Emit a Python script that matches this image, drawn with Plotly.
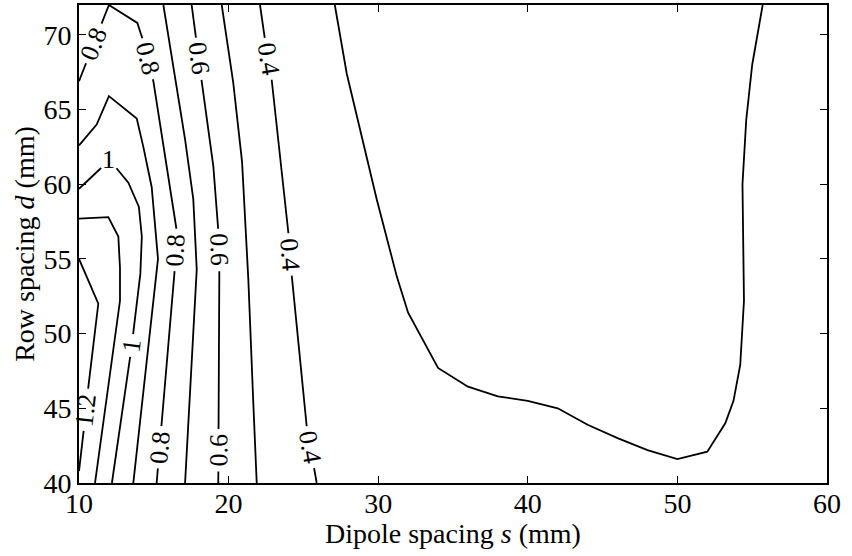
import math
import numpy as np
import plotly.graph_objects as go

# ---------------- data ----------------
# contour levels (step 0.1) and the traced iso-lines: s = dipole spacing, d = row spacing
c03_s = [27.1, 27.9, 29.9, 31.25, 32.0, 34.0, 36.0, 38.0, 40.0, 42.0, 44.0, 46.0, 48.0, 50.0, 52.0,
         53.2, 53.75, 54.2, 54.45, 54.35, 54.6, 55.0, 55.7]
c03_d = [72.0, 67.4, 59.0, 53.8, 51.4, 47.7, 46.45, 45.8, 45.5, 45.0, 43.9, 43.0, 42.2, 41.6, 42.1,
         44.0, 45.5, 47.9, 52.2, 60.0, 64.3, 68.0, 72.0]

c04_s = [22.1, 22.43, 22.88, 24.0, 24.22, 25.22, 25.89]
c04_d = [72.0, 69.7, 67.0, 56.7, 53.9, 43.8, 40.0]

c05_s = [19.54, 20.31, 20.9, 21.2, 21.32, 21.65, 21.88]
c05_d = [72.0, 66.8, 61.5, 56.0, 53.6, 45.4, 40.0]

c06_s = [17.53, 18.2, 18.98, 19.31, 19.38, 19.31]
c06_d = [72.0, 66.9, 61.2, 56.9, 54.0, 40.0]

c07_s = [15.64, 16.3, 17.09, 17.64, 17.87, 17.09]
c07_d = [72.0, 67.9, 63.0, 59.0, 54.3, 40.0]

c08_s = [10.0, 12.0, 13.9, 14.2, 14.97, 16.53, 16.4, 15.6, 15.19]
c08_d = [66.9, 72.0, 70.8, 69.9, 66.9, 56.9, 54.3, 44.9, 40.0]

c09_s = [10.0, 11.18, 12.0, 13.86, 14.3, 14.86, 15.28, 13.63]
c09_d = [62.6, 64.0, 65.9, 64.4, 62.5, 59.8, 55.0, 40.0]

c10_s = [10.0, 11.6, 12.0, 12.4, 13.3, 14.0, 14.2, 14.1, 13.5, 12.2]
c10_d = [59.7, 61.2, 61.65, 61.2, 60.1, 58.5, 56.5, 54.0, 49.0, 40.0]

c11_s = [10.0, 11.96, 12.63, 12.74, 12.74, 11.07]
c11_d = [57.7, 57.8, 56.5, 54.4, 52.2, 40.0]

c12_s = [10.0, 11.29, 10.62, 10.29, 10.0]
c12_d = [55.0, 52.0, 46.4, 43.3, 40.8]

levels = [0.3, 0.4, 0.5, 0.6, 0.7, 0.8, 0.9, 1.0, 1.1, 1.2]

# inline labels: level and approximate place on the line
label_level = [0.8, 0.8, 0.6, 0.4, 1.0, 0.8, 0.6, 0.4, 1.2, 1.0, 0.8, 0.6, 0.4]
label_s = [11.05, 14.58, 18.0, 22.65, 12.0, 16.5, 19.33, 24.1, 10.5, 13.6, 15.4, 19.31, 25.47]
label_d = [69.4, 68.4, 68.4, 68.4, 61.65, 55.6, 55.6, 55.3, 44.9, 49.2, 42.4, 42.2, 42.4]

x_ticks = [10, 20, 30, 40, 50, 60]
y_ticks = [40, 45, 50, 55, 60, 65, 70]
x_range = [10, 60]
y_range = [40, 72]
x_title = "Dipole spacing <i>s</i> (mm)"
y_title = "Row spacing <i>d</i> (mm)"

# ---------------- layout constants ----------------
W, H = 852, 556
ML, MR, MT, MB = 79, 25, 5, 73
FONT = "Liberation Serif"
TICK_SIZE = 28
LABEL_SIZE = 26

kx = (W - ML - MR) / (x_range[1] - x_range[0])
ky = (H - MT - MB) / (y_range[1] - y_range[0])

lines = {
    0.3: (c03_s, c03_d), 0.4: (c04_s, c04_d), 0.5: (c05_s, c05_d), 0.6: (c06_s, c06_d),
    0.7: (c07_s, c07_d), 0.8: (c08_s, c08_d), 0.9: (c09_s, c09_d), 1.0: (c10_s, c10_d),
    1.1: (c11_s, c11_d), 1.2: (c12_s, c12_d),
}


def to_px(s, d):
    return np.column_stack([(np.asarray(s) - x_range[0]) * kx, (y_range[1] - np.asarray(d)) * ky])


def to_data(p):
    return x_range[0] + p[0] / kx, y_range[1] - p[1] / ky


def point_at(P, cum, t):
    t = min(max(t, 0.0), cum[-1])
    i = int(np.searchsorted(cum, t, side="right") - 1)
    i = min(i, len(P) - 2)
    seg = cum[i + 1] - cum[i]
    f = 0.0 if seg == 0 else (t - cum[i]) / seg
    return P[i] + f * (P[i + 1] - P[i])


def nearest_t(P, cum, q):
    best = (1e18, 0.0)
    for i in range(len(P) - 1):
        a, b = P[i], P[i + 1]
        ab = b - a
        L2 = float(ab @ ab)
        f = 0.0 if L2 == 0 else max(0.0, min(1.0, float((q - a) @ ab) / L2))
        c = a + f * ab
        dist = float(np.hypot(*(q - c)))
        if dist < best[0]:
            best = (dist, cum[i] + f * math.sqrt(L2))
    return best[1]


def text_len(txt, size):
    return sum(0.25 * size if ch == "." else 0.5 * size for ch in txt)


fig = go.Figure()
annotations = []

for lev in levels:
    s, d = lines[lev]
    P = to_px(s, d)
    cum = np.concatenate([[0.0], np.cumsum(np.hypot(*np.diff(P, axis=0).T))])
    gaps = []
    for ll, ls, ld in zip(label_level, label_s, label_d):
        if abs(ll - lev) > 1e-9:
            continue
        q = to_px([ls], [ld])[0]
        t = nearest_t(P, cum, q)
        txt = f"{lev:g}"
        half = text_len(txt, LABEL_SIZE) / 2 + 5
        gaps.append((t - half, t + half))
        p1 = point_at(P, cum, t - 9)
        p2 = point_at(P, cum, t + 9)
        dx, dy = p2 - p1
        if dx < 0:
            dx, dy = -dx, -dy
        ang = math.degrees(math.atan2(dy, dx))
        cx, cy = to_data(point_at(P, cum, t))
        annotations.append(dict(x=cx, y=cy, xref="x", yref="y", text=txt, showarrow=False,
                                textangle=ang, font=dict(family=FONT, size=LABEL_SIZE, color="black"),
                                xanchor="center", yanchor="middle", borderpad=0))
    gaps.sort()
    keep = []
    start = 0.0
    for a, b in gaps:
        keep.append((start, a))
        start = b
    keep.append((start, cum[-1]))
    xs, ys = [], []
    for a, b in keep:
        if b <= a:
            continue
        pts = [point_at(P, cum, a)] + [P[i] for i in range(len(P)) if a < cum[i] < b] + [point_at(P, cum, b)]
        for p in pts:
            x_, y_ = to_data(p)
            xs.append(x_)
            ys.append(y_)
        xs.append(None)
        ys.append(None)
    fig.add_trace(go.Scatter(x=xs, y=ys, mode="lines", line=dict(color="black", width=1.8),
                             hoverinfo="skip", showlegend=False))

# x-axis title placed as paper annotation (centre ~50 px below the axis)
plot_h = H - MT - MB
annotations.append(dict(x=0.5, y=-(533 - (H - MB)) / plot_h, xref="paper", yref="paper",
                        text=x_title, showarrow=False, xanchor="center", yanchor="middle",
                        font=dict(family=FONT, size=TICK_SIZE, color="black")))

axis_common = dict(
    showline=True, linecolor="black", linewidth=1.6, mirror="ticks",
    ticks="inside", ticklen=7, tickwidth=1.4, tickcolor="black",
    showgrid=False, zeroline=False,
    tickfont=dict(family=FONT, size=TICK_SIZE, color="black"),
)

fig.update_layout(
    width=W, height=H,
    margin=dict(l=ML, r=MR, t=MT, b=MB),
    paper_bgcolor="white", plot_bgcolor="white",
    showlegend=False,
    annotations=annotations,
    xaxis=dict(range=x_range, tickvals=x_ticks, ticktext=[str(v) for v in x_ticks],
               ticklabelstandoff=-5, automargin=False, **axis_common),
    yaxis=dict(range=y_range, tickvals=y_ticks, ticktext=[str(v) for v in y_ticks],
               title=dict(text=y_title, font=dict(family=FONT, size=TICK_SIZE, color="black"),
                          standoff=1),
               automargin=False, **axis_common),
)

fig.write_html("out.html", config={"displayModeBar": False},
               post_script="document.body.style.margin='0';")
